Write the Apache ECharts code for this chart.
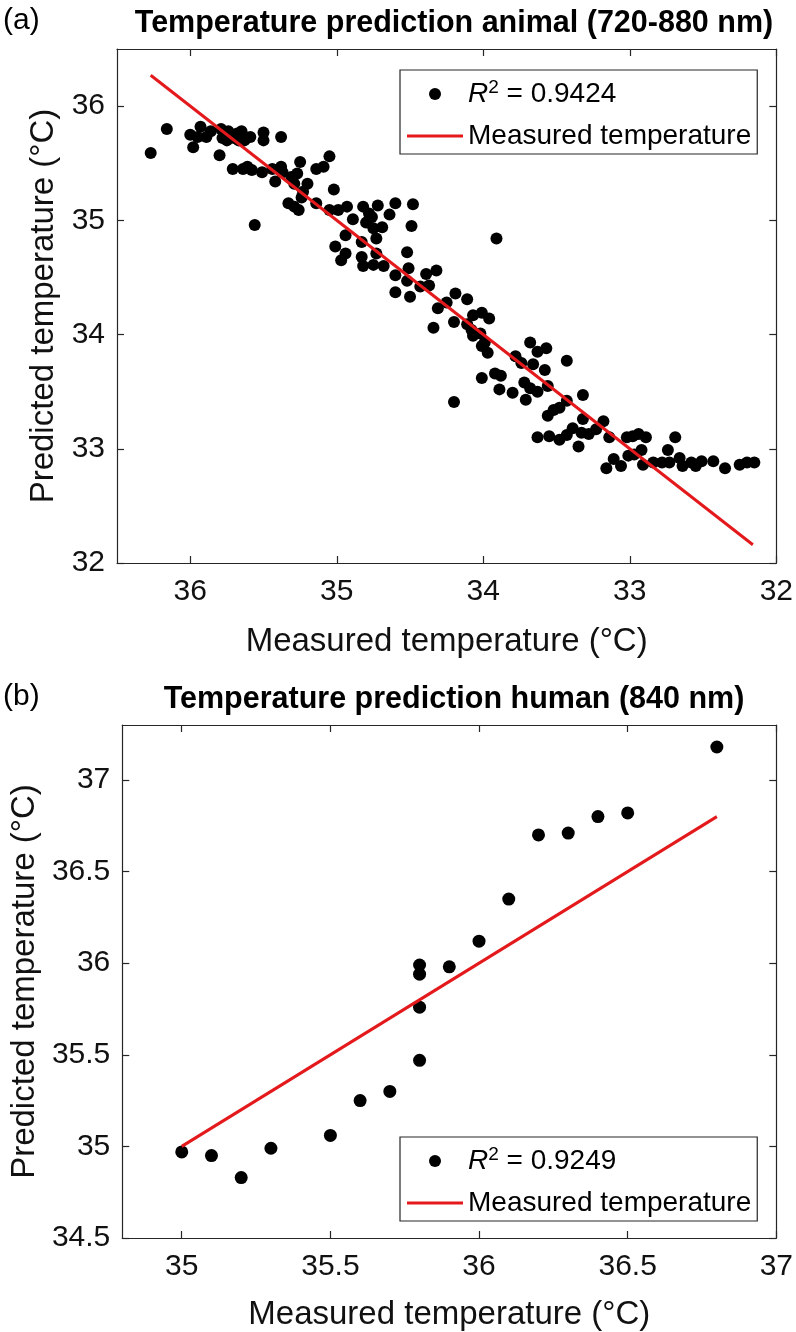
<!DOCTYPE html>
<html><head><meta charset="utf-8">
<script src="https://cdn.jsdelivr.net/npm/echarts@6/dist/echarts.min.js"></script>
<style>html,body{margin:0;padding:0;background:#fff}#c{width:796px;height:1332px}</style>
</head><body><div id="c"></div>
<script>
// ---- Panel (a): animal, 720-880 nm ----
const measuredA = [36.27,36.16,36.00,35.98,35.93,35.89,35.95,35.80,35.79,35.78,35.71,35.68,35.64,35.65,35.63,35.59,35.61,35.72,35.75,35.58,
 35.50,35.50,35.51,35.56,35.38,35.38,35.42,35.37,35.25,35.27,35.29,35.20,35.23,35.33,35.26,35.29,35.14,35.09,35.05,35.14,
 35.02,35.05,34.99,34.93,34.89,35.01,34.94,34.97,34.94,34.82,34.72,34.76,34.75,34.69,34.73,34.83,34.83,34.82,34.73,34.68,
 34.75,34.64,34.60,34.48,34.49,34.52,34.60,34.60,34.51,34.52,34.50,34.43,34.39,34.37,34.32,34.31,34.34,
 35.86,35.70,35.67,35.74,35.44,35.31,35.24,34.80,34.78,
 33.91,34.19,34.11,34.25,34.20,34.11,34.07,34.01,33.96,34.08,34.07,34.02,33.99,34.01,33.97,34.20,34.01,33.92,33.88,33.89,
 33.78,33.74,33.68,33.63,33.57,33.66,33.58,33.56,33.43,33.80,33.72,33.68,33.71,33.63,33.56,33.52,33.48,33.43,33.32,33.63,
 33.55,33.48,33.43,33.39,33.33,33.35,33.32,33.28,33.23,33.18,33.14,33.16,33.11,33.06,33.01,33.02,32.98,32.94,32.89,32.92,
 32.97,32.91,32.84,32.78,32.74,32.69,32.73,32.66,32.64,32.58,32.55,32.51,32.43,32.35,32.25,32.20,32.15];
const predictedA = [35.59,35.80,35.75,35.64,35.82,35.73,35.73,35.57,35.80,35.72,35.45,35.76,35.45,35.78,35.70,35.73,35.47,35.75,35.70,35.44,
 35.77,35.70,35.42,34.96,35.73,35.47,35.34,35.42,35.51,35.41,35.32,35.32,35.25,35.15,35.09,35.12,35.45,35.47,35.56,35.15,
 35.27,35.09,35.09,35.12,35.01,34.77,34.87,34.65,34.71,35.12,35.13,35.03,34.93,34.94,34.84,34.81,34.68,34.60,34.71,34.60,
 34.61,35.05,35.15,35.14,34.95,34.72,34.52,34.37,34.58,34.47,34.33,34.42,34.53,34.43,34.56,34.23,34.06,
 35.78,35.72,35.70,35.78,35.45,35.38,35.20,34.98,35.06,
 34.84,34.36,34.31,34.28,34.11,34.09,34.17,34.19,34.14,34.04,33.99,34.01,33.93,33.90,33.84,33.41,33.62,33.66,33.64,33.52,
 33.81,33.75,33.93,33.85,33.88,33.74,33.69,33.55,33.77,33.49,33.58,33.53,33.43,33.50,33.29,33.34,33.36,33.42,33.47,33.10,
 33.11,33.08,33.12,33.18,33.14,33.02,33.26,33.13,33.17,33.24,33.10,32.83,32.91,32.85,32.94,33.10,33.11,33.13,33.10,32.99,
 32.95,32.86,32.88,32.88,32.99,33.10,32.88,32.92,32.85,32.88,32.85,32.89,32.89,32.83,32.86,32.88,32.88];
const fitA = [36.27, 32.16];
const ticksA = [32, 33, 34, 35, 36];

// ---- Panel (b): human, 840 nm ----
const measuredB = [35.0,35.1,35.2,35.3,35.5,35.6,35.7,35.8,35.8,35.8,35.8,35.9,36.0,36.1,36.2,36.3,36.4,36.5,36.8];
const predictedB = [34.97,34.95,34.83,34.99,35.06,35.25,35.30,35.47,35.76,35.94,35.99,35.98,36.12,36.35,36.70,36.71,36.80,36.82,37.18];
const fitB = [35.0, 36.8];
const ticksBX = [35, 35.5, 36, 36.5, 37];
const ticksBY = [34.5, 35, 35.5, 36, 36.5, 37];

const r2A = 'R2 = 0.9424';
const r2B = 'R2 = 0.9249';
const lineName = 'Measured temperature';

const FONT = "'Liberation Sans', Arial, Helvetica, sans-serif";
const AX = '#262626';
const RED = '#e3191c';

function zip(a, b) { return a.map((v, i) => [v, b[i]]); }

function axis(o) {
  const main = o.main;
  return {
    type: 'value', gridIndex: o.grid, min: o.min, max: o.max, inverse: !!o.inverse,
    position: o.position, scale: true,
    axisLine: { show: true, onZero: false, lineStyle: { color: AX, width: 1.2 } },
    axisTick: { show: true, inside: true, length: 7, customValues: o.ticks, lineStyle: { color: AX, width: 1.2 } },
    axisLabel: main ? { show: true, customValues: o.ticks, fontSize: 30, fontFamily: FONT, color: '#111', margin: o.margin } : { show: false },
    splitLine: { show: false },
    name: main ? o.name : '', nameLocation: 'middle', nameGap: o.nameGap,
    nameTextStyle: { fontSize: 33, fontFamily: FONT, color: '#111' }
  };
}

const legendCommon = {
  orient: 'vertical', itemWidth: 56, itemHeight: 12, itemGap: 10,
  padding: [8, 6, 2, 7], borderColor: AX, borderWidth: 1.2, backgroundColor: '#fff',
  selectedMode: false, symbolKeepAspect: true,
  textStyle: { fontSize: 28, fontFamily: FONT, color: '#000', lineHeight: 32,
    rich: {
      it: { fontSize: 28, fontStyle: 'italic', fontFamily: FONT, color: '#000', lineHeight: 32 },
      sup: { fontSize: 19, fontFamily: FONT, color: '#000', lineHeight: 16, verticalAlign: 'top' },
      n: { fontSize: 28, fontFamily: FONT, color: '#000', lineHeight: 32 }
    } },
  formatter: function (name) {
    if (name.indexOf('R2') === 0) return '{it|R}{sup|2}{n|' + name.slice(2) + '}';
    return name;
  }
};
const lineIcon = { name: lineName, icon: 'path://M0,0H56V3H0Z', itemStyle: { color: RED } };

const option = {
  animation: false,
  backgroundColor: '#fff',
  title: [
    { text: '(a)', left: -2, top: 1, textStyle: { fontSize: 30, fontWeight: 'normal', fontFamily: FONT, color: '#000' } },
    { text: 'Temperature prediction animal (720-880 nm)', left: 449, top: 3, textAlign: 'center',
      textStyle: { fontSize: 30.5, fontWeight: 'bold', fontFamily: FONT, color: '#000' } },
    { text: '(b)', left: -2, top: 677, textStyle: { fontSize: 30, fontWeight: 'normal', fontFamily: FONT, color: '#000' } },
    { text: 'Temperature prediction human (840 nm)', left: 449, top: 679, textAlign: 'center',
      textStyle: { fontSize: 30.5, fontWeight: 'bold', fontFamily: FONT, color: '#000' } }
  ],
  grid: [
    { left: 117, top: 49, width: 660, height: 514 },
    { left: 117, top: 725, width: 660, height: 522 }
  ],
  xAxis: [
    axis({ main: true, grid: 0, min: 32, max: 36.5, inverse: true, position: 'bottom', ticks: ticksA, margin: 14, name: 'Measured temperature (°C)', nameGap: 62 }),
    axis({ main: false, grid: 0, min: 32, max: 36.5, inverse: true, position: 'top', ticks: ticksA }),
    axis({ main: true, grid: 1, min: 34.8, max: 37, position: 'bottom', ticks: ticksBX, margin: 14, name: 'Measured temperature (°C)', nameGap: 60 }),
    axis({ main: false, grid: 1, min: 34.8, max: 37, position: 'top', ticks: ticksBX })
  ],
  yAxis: [
    axis({ main: true, grid: 0, min: 32, max: 36.5, position: 'left', ticks: ticksA, margin: 12, name: 'Predicted temperature (°C)', nameGap: 56 }),
    axis({ main: false, grid: 0, min: 32, max: 36.5, position: 'right', ticks: ticksA }),
    axis({ main: true, grid: 1, min: 34.5, max: 37.3, position: 'left', ticks: ticksBY, margin: 12, name: 'Predicted temperature (°C)', nameGap: 80 }),
    axis({ main: false, grid: 1, min: 34.5, max: 37.3, position: 'right', ticks: ticksBY })
  ],
  legend: [
    Object.assign({}, legendCommon, { data: [r2A, lineIcon], left: 400, top: 70 }),
    Object.assign({}, legendCommon, { data: [r2B, lineIcon], left: 400, top: 1137 })
  ],
  series: [
    { name: r2A, type: 'scatter', xAxisIndex: 0, yAxisIndex: 0, symbol: 'circle', symbolSize: 12,
      itemStyle: { color: '#000', opacity: 1 }, data: zip(measuredA, predictedA) },
    { name: lineName, type: 'line', xAxisIndex: 0, yAxisIndex: 0, symbol: 'none', showSymbol: false,
      lineStyle: { color: RED, width: 3 }, itemStyle: { color: RED }, data: zip(fitA, fitA) },
    { name: r2B, type: 'scatter', xAxisIndex: 2, yAxisIndex: 2, symbol: 'circle', symbolSize: 13,
      itemStyle: { color: '#000', opacity: 1 }, data: zip(measuredB, predictedB) },
    { name: lineName, type: 'line', xAxisIndex: 2, yAxisIndex: 2, symbol: 'none', showSymbol: false,
      lineStyle: { color: RED, width: 3 }, itemStyle: { color: RED }, data: zip(fitB, fitB) }
  ]
};

const chart = echarts.init(document.getElementById('c'), null, { renderer: 'canvas' });
chart.setOption(option);
</script>
</body></html>
